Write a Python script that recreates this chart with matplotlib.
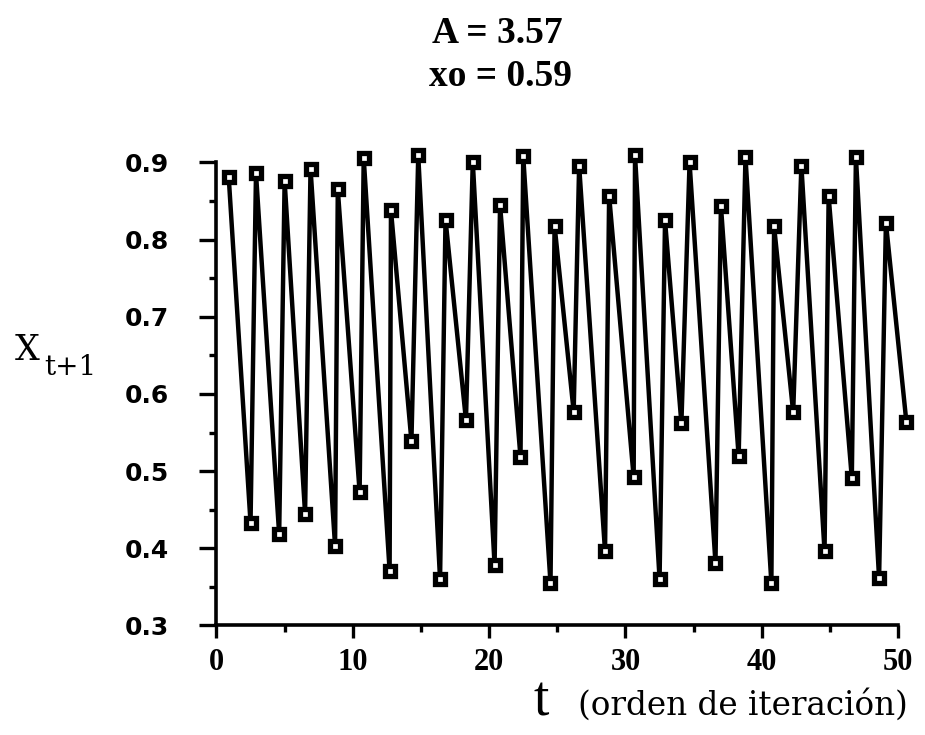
import matplotlib
matplotlib.use("Agg")
import matplotlib.pyplot as plt

# values (t positions are as drawn)
t = [0.9, 2.5, 2.9, 4.6, 5.0, 6.5, 6.9, 8.7, 8.9, 10.5,
     10.8, 12.7, 12.8, 14.3, 14.8, 16.4, 16.8, 18.3, 18.8, 20.4,
     20.8, 22.3, 22.5, 24.5, 24.8, 26.2, 26.6, 28.5, 28.8, 30.6,
     30.7, 32.5, 32.9, 34.1, 34.7, 36.6, 37.0, 38.3, 38.8, 40.7,
     40.9, 42.3, 42.9, 44.6, 44.9, 46.6, 46.9, 48.6, 49.1, 50.6]
x_next = [0.881, 0.433, 0.886, 0.418, 0.876, 0.445, 0.892, 0.403, 0.865, 0.473,
          0.906, 0.371, 0.838, 0.539, 0.909, 0.360, 0.826, 0.566, 0.901, 0.378,
          0.845, 0.518, 0.908, 0.355, 0.818, 0.577, 0.896, 0.396, 0.857, 0.492,
          0.909, 0.360, 0.825, 0.562, 0.900, 0.381, 0.844, 0.519, 0.907, 0.355,
          0.817, 0.576, 0.896, 0.396, 0.856, 0.491, 0.907, 0.361, 0.822, 0.564]
xtick_vals = [0, 10, 20, 30, 40, 50]
ytick_vals = [0.3, 0.4, 0.5, 0.6, 0.7, 0.8, 0.9]
ytick_labs = ["0.3", "0.4", "0.5", "0.6", "0.7", "0.8", "0.9"]

serif = "Liberation Serif"

fig = plt.figure(figsize=(9.25, 7.35), dpi=100)
ax = fig.add_axes([0.234, 0.149, 0.737, 0.630])

ax.plot(t, x_next, color="black", lw=3.2, marker="s", markersize=7,
        mfc="white", mec="black", mew=3.8, clip_on=False)

ax.set_xlim(0, 50)
ax.set_ylim(0.3, 0.9)
ax.set_xticks(xtick_vals)
ax.set_xticks([5, 15, 25, 35, 45], minor=True)
ax.set_yticks(ytick_vals)
ax.set_yticks([0.35, 0.45, 0.55, 0.65, 0.75, 0.85], minor=True)
ax.set_yticklabels(ytick_labs)

for s in ["top", "right"]:
    ax.spines[s].set_visible(False)
for s in ["left", "bottom"]:
    ax.spines[s].set_linewidth(2.6)

ax.tick_params(which="major", direction="out", length=9, width=2.4)
ax.tick_params(which="minor", direction="out", length=5, width=2.4)
ax.tick_params(axis="y", which="major", length=12, pad=22)
ax.tick_params(axis="x", which="major", pad=7)
for lab in ax.get_xticklabels():
    lab.set_fontfamily(serif)
    lab.set_fontweight("bold")
    lab.set_fontsize(22)
for lab in ax.get_yticklabels():
    lab.set_fontfamily("DejaVu Sans")
    lab.set_fontweight("bold")
    lab.set_fontsize(18)

fig.text(0.538, 0.955, "A = 3.57", ha="center", va="center", fontsize=27,
         family=serif, weight="bold")
fig.text(0.541, 0.896, "xo = 0.59", ha="center", va="center", fontsize=27,
         family=serif, weight="bold")

fig.text(0.029, 0.524, "X", fontsize=25, family="DejaVu Serif",
         ha="center", va="center")
fig.text(0.076, 0.500, "t+1", fontsize=20, family="DejaVu Serif",
         ha="center", va="center")

fig.text(0.585, 0.026, "t", fontsize=40, family=serif, ha="center", va="baseline")
fig.text(0.982, 0.028, "(orden de iteración)", fontsize=23.5, family="DejaVu Serif",
         ha="right", va="baseline")

fig.savefig("out.png", dpi=100)
